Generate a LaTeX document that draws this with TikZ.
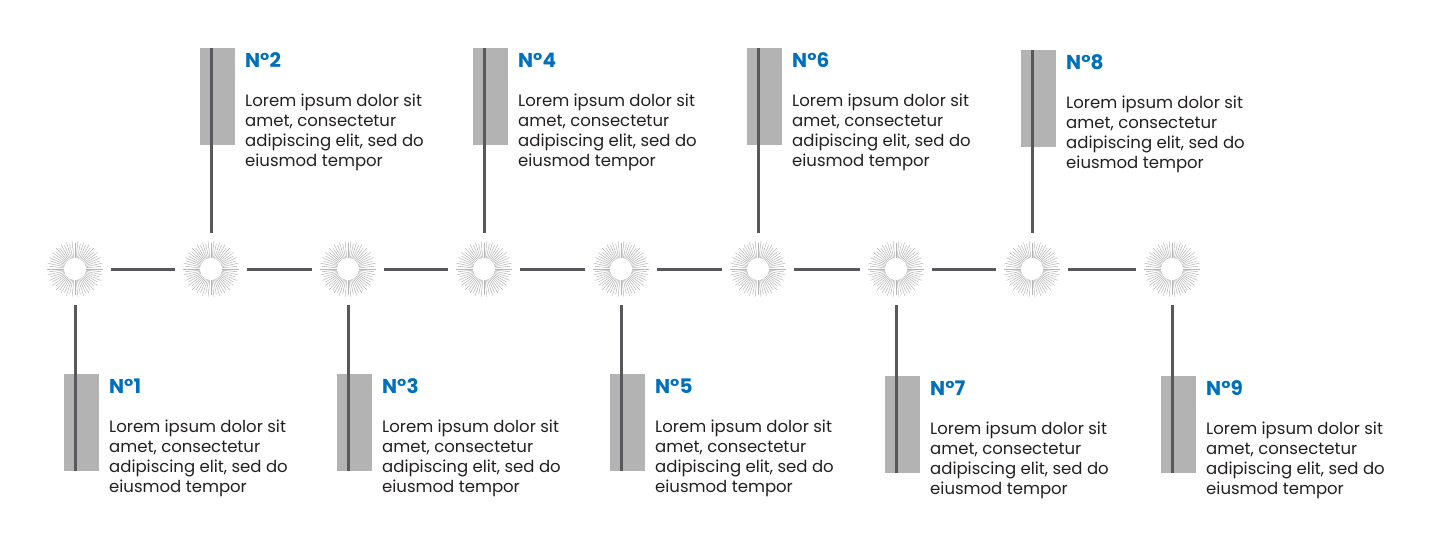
\documentclass[tikz,border=0pt]{standalone}
\usepackage{fontspec}
\setmainfont{Poppins}
\definecolor{numblue}{RGB}{0,112,186}
\definecolor{tabgray}{RGB}{179,179,179}
\definecolor{linkgray}{RGB}{88,88,92}
\definecolor{raygray}{RGB}{180,180,180}
\definecolor{txtgray}{RGB}{35,31,32}
\tikzset{
  burst/.style={circle, minimum size=72pt, inner sep=0pt},
  ray/.style={draw=raygray, line width=0.5pt},
  tab/.style={fill=tabgray, minimum width=35pt, minimum height=97pt, inner sep=0pt, anchor=north west},
  link/.style={draw=linkgray, line width=3pt},
  numlbl/.style={anchor=base west, inner sep=0pt, text=numblue, font=\bfseries\fontsize{20}{24}\selectfont},
  body/.style={anchor=north west, inner sep=0pt, align=left, text=txtgray, font=\fontsize{16.5}{20}\selectfont}
}
\begin{document}
\begin{tikzpicture}[x=1pt,y=-1pt]
    \useasboundingbox (0,0) rectangle (1440,546);
    % steps: number / x / top of tab / end of stem
    \foreach \i/\x/\ty/\tip in {1/75/374/south, 2/211/48/north, 3/348/374/south,
        4/484/48/north, 5/621/374/south, 6/758/48/north, 7/896/376/south,
        8/1032/50/north, 9/1172/376/south} {
        \foreach \a in {0,6,...,354}
            \draw[ray] (\x,269) ++(\a:11) -- ++(\a:{17-2*mod(\a/6,2)});
        \node[burst] (s\i) at (\x,269) {};
        \node[tab] (b\i) at (\x-11,\ty) {};
        \draw[link] (s\i) -- (s\i |- b\i.\tip);
        \node[numlbl] (n\i) at (\x+34,\ty+19) {N°\i};
        \node[body] (t\i) at (\x+34,\ty+46) {Lorem ipsum dolor sit\\amet, consectetur\\adipiscing elit, sed do\\eiusmod tempor};
    }
    \foreach \i [evaluate=\i as \j using int(\i+1)] in {1,...,8}
        \draw[link] (s\i) -- (s\j);
\end{tikzpicture}
\end{document}
